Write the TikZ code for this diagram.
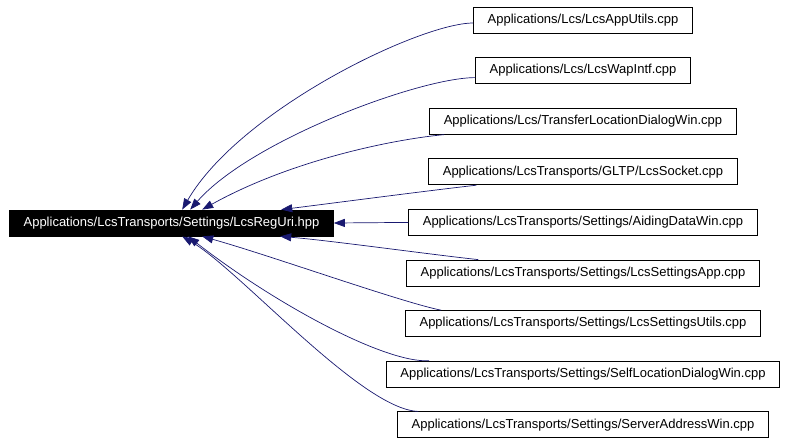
\documentclass[tikz,border=0pt]{standalone}
\usepackage{fontspec}
\setmainfont{Liberation Sans}
\usetikzlibrary{arrows.meta, positioning}
\definecolor{edgeblue}{RGB}{25,25,112}

\begin{document}
\begin{tikzpicture}[
    x=1pt, y=-1pt,
    node distance=23.8pt,
    filebox/.style={rectangle, draw=black, fill=white, line width=0.8pt, minimum height=26pt, inner xsep=14pt, inner ysep=2pt, font=\fontsize{13}{15}\selectfont},
    mainfile/.style={filebox, fill=black, text=white},
    arrow/.style={-{Triangle[length=11pt, width=8pt]}, draw=edgeblue, line width=0.7pt}
]
\useasboundingbox (0,0) rectangle (789,445);
\node (reguri) [mainfile] at (171.5,223) {Applications/LcsTransports/Settings/LcsRegUri.hpp};
\node (apputils) [filebox] at (583,20) {Applications/Lcs/LcsAppUtils.cpp};
\node (wapintf) [filebox, below=of apputils] {Applications/Lcs/LcsWapIntf.cpp};
\node (transfer) [filebox, below=of wapintf] {Applications/Lcs/TransferLocationDialogWin.cpp};
\node (socket) [filebox, below=of transfer] {Applications/LcsTransports/GLTP/LcsSocket.cpp};
\node (aiding) [filebox, below=of socket] {Applications/LcsTransports/Settings/AidingDataWin.cpp};
\node (settingsapp) [filebox, below=of aiding] {Applications/LcsTransports/Settings/LcsSettingsApp.cpp};
\node (settingsutils) [filebox, below=of settingsapp] {Applications/LcsTransports/Settings/LcsSettingsUtils.cpp};
\node (selflocation) [filebox, below=of settingsutils] {Applications/LcsTransports/Settings/SelfLocationDialogWin.cpp};
\node (serveraddr) [filebox, below=of selflocation] {Applications/LcsTransports/Settings/ServerAddressWin.cpp};
\draw [arrow] ([yshift=-3pt]apputils.west) .. controls +(-53,0) and +(58,-100) .. ([xshift=173pt]reguri.north west);
\draw [arrow] ([yshift=-7pt]wapintf.west) .. controls +(-56,0) and +(60,-69) .. ([xshift=181pt]reguri.north west);
\draw [arrow] ([xshift=15pt]transfer.south west) .. controls +(-53,5) and +(88,-49) .. ([xshift=193pt]reguri.north west);
\draw [arrow] ([xshift=48pt]socket.south west) .. controls +(-45,5) and +(48,-6) .. ([xshift=272pt]reguri.north west);
\draw [arrow] (aiding.west) -- (reguri.east);
\draw [arrow] ([xshift=72pt]settingsapp.north west) .. controls +(-47,-5) and +(49,4) .. ([xshift=271pt]reguri.south west);
\draw [arrow] ([xshift=36pt]settingsutils.north west) .. controls +(-40,-8) and +(68,19) .. ([xshift=193pt]reguri.south west);
\draw [arrow] ([xshift=43pt]selflocation.north west) .. controls +(-47,2) and +(82,64) .. ([xshift=179pt]reguri.south west);
\draw [arrow] ([xshift=21pt]serveraddr.north west) .. controls +(-57,-2) and +(58,34) .. ([xshift=173pt]reguri.south west);
\end{tikzpicture}
\end{document}
